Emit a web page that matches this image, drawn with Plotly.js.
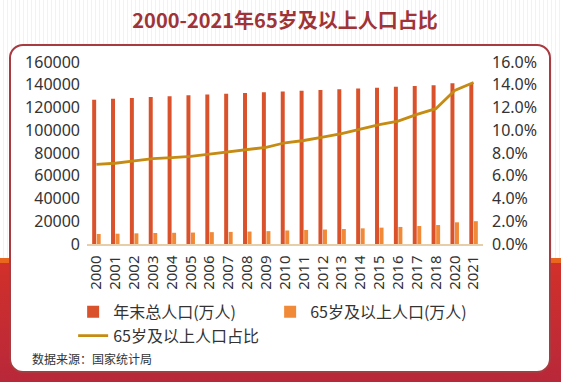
<!DOCTYPE html>
<html>
<head>
<meta charset="utf-8">
<script src="https://cdn.plot.ly/plotly-3.0.1.min.js"></script>
<style>
html,body{margin:0;padding:0;}
body{width:561px;height:382px;position:relative;overflow:hidden;
 background:
  linear-gradient(180deg, rgba(0,0,0,0) 0px, rgba(0,0,0,0) 258px, #e8661e 258px, #e8661e 263px, #d2302a 263px, #b8283a 382px),
  repeating-linear-gradient(90deg, #ffffff 0px, #ffffff 3px, #f5f1f1 3px, #f5f1f1 4px);}
#card{position:absolute;left:9px;top:44px;width:538px;height:325px;background:#fff;
 border:2.5px solid #a83a40;border-radius:14px;}
#chart{position:absolute;left:0;top:0;width:561px;height:382px;}
</style>
</head>
<body>
<div id="card"></div>
<div id="chart"></div>
<script>
const years = ['2000','2001','2002','2003','2004','2005','2006','2007','2008','2009','2010','2011','2012','2013','2014','2015','2016','2017','2018','2020','2021'];
const totalPop = [126743,127627,128453,129227,129988,130756,131448,132129,132802,133450,134091,134735,135404,136072,136782,137462,138271,139008,139538,141212,141260];
const pop65 = [8821,9062,9377,9692,9857,10055,10419,10636,10956,11307,11894,12288,12714,13161,13755,14386,15003,15831,16658,19064,20056];
const ratio65 = [0.070,0.071,0.073,0.075,0.076,0.077,0.079,0.081,0.083,0.085,0.089,0.091,0.094,0.097,0.101,0.105,0.108,0.114,0.119,0.135,0.142];

const FONT = '"Noto Sans", "Noto Sans CJK SC", sans-serif';

const traces = [
 {type:'bar', name:'年末总人口(万人)', x:years, y:totalPop, marker:{color:'#da522b'}},
 {type:'bar', name:'65岁及以上人口(万人)', x:years, y:pop65, marker:{color:'#f08a38'}},
 {type:'scatter', mode:'lines', name:'65岁及以上人口占比', x:years, y:ratio65, yaxis:'y2',
  line:{color:'#c58b12', width:2.8}}
];

const layout = {
 width:561, height:382,
 paper_bgcolor:'rgba(0,0,0,0)', plot_bgcolor:'rgba(0,0,0,0)',
 margin:{l:87, r:78, t:62, b:138},
 font:{family:FONT, color:'#333', size:16},
 title:{text:'<b>2000-2021年65岁及以上人口占比</b>', font:{family:'"Noto Sans CJK SC", sans-serif', size:20, color:'#9e3438'},
  x:0.5, xanchor:'center', y:1-21/382, yanchor:'middle', xref:'paper'},
 bargap:0.52, bargroupgap:0.12, barmode:'group',
 showlegend:true,
 legend:{orientation:'h', x:-0.035, xanchor:'left', y:-0.28, yanchor:'top',
  font:{size:16, family:'"Noto Sans CJK SC", sans-serif', color:'#333'}, entrywidth:152, entrywidthmode:'pixels',
  traceorder:'normal', bgcolor:'rgba(0,0,0,0)', tracegroupgap:0},
 xaxis:{type:'category', tickangle:-90, tickfont:{size:15, family:FONT, color:'#333'},
  showline:true, linecolor:'#e6cfa8', linewidth:1.5, ticks:'', showgrid:false, zeroline:false, ticklabelstandoff:4},
 yaxis:{range:[0,160000], dtick:20000, tickformat:'d', showgrid:false, zeroline:false, showline:false, ticks:'',
  tickfont:{size:16, family:FONT, color:'#333'}, ticklabelstandoff:6},
 yaxis2:{overlaying:'y', side:'right', range:[0,0.16], dtick:0.02, tickformat:'.1%', showgrid:false, zeroline:false,
  showline:false, ticks:'', tickfont:{size:16, family:FONT, color:'#333'}, ticklabelstandoff:8},
 annotations:[
  {text:'数据来源：国家统计局', xref:'paper', yref:'paper', x:(30-87)/396, y:(244-358)/182, xanchor:'left', yanchor:'middle',
   showarrow:false, font:{size:12, family:'"Noto Sans CJK SC", sans-serif', color:'#333'}}
 ]
};

Plotly.newPlot('chart', traces, layout, {displayModeBar:false, staticPlot:true});
</script>
</body>
</html>
